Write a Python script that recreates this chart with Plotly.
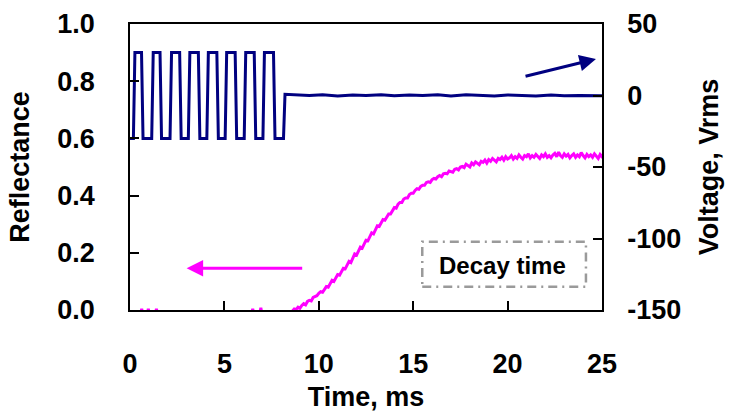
import plotly.graph_objects as go

# ---- data -------------------------------------------------------------
# Drive voltage (Vrms) vs time (ms): 1 kHz square burst, then switched off
volt_time = [0.0, 0.18, 0.26, 0.61, 0.69, 1.15, 1.23, 1.59, 1.67, 2.12, 2.20,
             2.63, 2.71, 3.09, 3.17, 3.62, 3.70, 4.07, 4.15, 4.60, 4.68, 5.04,
             5.12, 5.57, 5.65, 6.05, 6.13, 6.58, 6.66, 7.04, 7.12, 7.60, 7.68,
             8.13, 8.21, 8.8, 9.5, 10.2, 11.0, 11.8, 12.5, 13.3, 14.0, 14.8,
             15.5, 16.3, 17.0, 17.8, 18.5, 19.3, 20.0, 20.8, 21.5, 22.3, 23.0,
             23.8, 24.5, 25.0]
volt_value = [-30, -30, 30, 30, -30, -30, 30, 30, -30, -30, 30,
              30, -30, -30, 30, 30, -30, -30, 30, 30, -30, -30,
              30, 30, -30, -30, 30, 30, -30, -30, 30, 30, -30,
              -30, 0.8, 0.6, 0.0, 0.5, -0.3, 0.4, 0.0, 0.6, -0.2, 0.3,
              0.0, 0.5, -0.4, 0.6, 0.0, -0.3, 0.4, 0.1, -0.3, 0.3, -0.2,
              0.0, 0.2, -0.1]

# Reflectance before the switch-off (mostly just under zero)
refl_early_time = [0.0, 0.55, 0.62, 0.70, 0.90, 0.97, 1.05, 1.33, 1.40,
                   1.48, 6.42, 6.50, 6.58, 6.85, 6.93, 7.00, 8.40]
refl_early = [-0.02, -0.02, 0.004, -0.02, -0.02, 0.004, -0.02, -0.02, 0.004,
              -0.02, -0.02, 0.004, -0.02, -0.02, 0.008, -0.02, -0.02]

# Reflectance decay response, sampled every 0.1 ms from 8.4 ms
refl_start = 8.4
refl_step = 0.1
refl_decay = [
    -0.020, -0.010, -0.004, 0.004, 0.002, 0.010, 0.006, 0.016, 0.022, 0.018,   # 8.4
    0.030, 0.034, 0.032, 0.044, 0.048, 0.050, 0.058, 0.064, 0.062, 0.074,      # 9.4
    0.082, 0.080, 0.092, 0.104, 0.100, 0.112, 0.124, 0.122, 0.136, 0.146,      # 10.4
    0.144, 0.156, 0.170, 0.166, 0.180, 0.196, 0.192, 0.204, 0.220, 0.216,      # 11.4
    0.232, 0.244, 0.242, 0.256, 0.270, 0.266, 0.282, 0.294, 0.292, 0.306,      # 12.4
    0.316, 0.314, 0.328, 0.336, 0.336, 0.350, 0.358, 0.356, 0.370, 0.376,      # 13.4
    0.376, 0.388, 0.392, 0.392, 0.404, 0.408, 0.408, 0.418, 0.424, 0.422,      # 14.4
    0.432, 0.436, 0.436, 0.446, 0.448, 0.446, 0.456, 0.460, 0.458, 0.466,      # 15.4
    0.470, 0.466, 0.476, 0.478, 0.476, 0.486, 0.484, 0.482, 0.492, 0.494,      # 16.4
    0.490, 0.500, 0.502, 0.498, 0.510, 0.504, 0.500, 0.514, 0.508, 0.518,      # 17.4
    0.512, 0.508, 0.520, 0.516, 0.524, 0.514, 0.526, 0.520, 0.530, 0.522,      # 18.4
    0.518, 0.530, 0.526, 0.534, 0.524, 0.536, 0.528, 0.532, 0.540, 0.528,      # 19.4
    0.536, 0.530, 0.542, 0.534, 0.528, 0.540, 0.536, 0.546, 0.532, 0.540,      # 20.4
    0.534, 0.544, 0.538, 0.530, 0.542, 0.536, 0.546, 0.534, 0.540, 0.532,      # 21.4
    0.542, 0.548, 0.536, 0.552, 0.540, 0.534, 0.546, 0.538, 0.544, 0.532,      # 22.4
    0.540, 0.546, 0.534, 0.542, 0.536, 0.550, 0.540, 0.532, 0.544, 0.536,      # 23.4
    0.542, 0.534, 0.546, 0.538, 0.530, 0.544, 0.536, 0.540, 0.546, 0.532,      # 24.4
    0.540,                                                                     # 25.0
]

x_ticks = [0, 5, 10, 15, 20, 25]
refl_ticks = [0.0, 0.2, 0.4, 0.6, 0.8, 1.0]
volt_ticks = [-150, -100, -50, 0, 50]
volt_tick_text = ["-150", "-100", "-50", "0", "50"]

# ---- styles -----------------------------------------------------------
FONT = "Liberation Sans, Arial, sans-serif"
NAVY = "#000080"
MAGENTA = "#FF00FF"
TICK_FONT = dict(family=FONT, size=27, color="black", weight="bold")
TITLE_FONT = dict(family=FONT, size=27, color="black", weight="bold")

fig = go.Figure()

fig.add_trace(go.Scatter(x=refl_early_time, y=refl_early, mode="lines",
                         line=dict(color=MAGENTA, width=3), yaxis="y",
                         showlegend=False))
fig.add_trace(go.Scatter(x0=refl_start, dx=refl_step, y=refl_decay, mode="lines",
                         line=dict(color=MAGENTA, width=3), yaxis="y",
                         showlegend=False))
fig.add_trace(go.Scatter(x=volt_time, y=volt_value, mode="lines",
                         line=dict(color=NAVY, width=3), yaxis="y2",
                         showlegend=False))

axis_common = dict(
    showline=True, linecolor="black", linewidth=1.5,
    ticks="inside", ticklen=9, tickwidth=1.5, tickcolor="black",
    showgrid=False, zeroline=False, automargin=False,
    tickfont=TICK_FONT,
)

fig.update_layout(
    width=730, height=412,
    margin=dict(l=130, r=128, t=24, b=102),
    paper_bgcolor="white", plot_bgcolor="white",
    xaxis=dict(range=[0, 25], tickvals=x_ticks, mirror=True,
               ticklabelstandoff=29,
               title=dict(text="Time, ms", standoff=12, font=TITLE_FONT),
               **axis_common),
    yaxis=dict(range=[0, 1], tickvals=refl_ticks, tickformat=".1f",
               ticklabelstandoff=28,
               title=dict(text="Reflectance", standoff=20, font=TITLE_FONT),
               **axis_common),
    yaxis2=dict(range=[-150, 50], tickvals=volt_ticks, ticktext=volt_tick_text,
                overlaying="y", side="right",
                ticklabelstandoff=18,
                title=dict(text="Voltage, Vrms", standoff=19, font=TITLE_FONT),
                **axis_common),
)

# Arrows pointing each curve to its axis
fig.add_annotation(x=24.68, y=25.5, xref="x", yref="y2",
                   ax=20.87, ay=13.2, axref="x", ayref="y2",
                   showarrow=True, arrowhead=2, arrowsize=1.1, arrowwidth=3,
                   arrowcolor=NAVY, text="")
fig.add_annotation(x=3.0, y=0.146, xref="x", yref="y",
                   ax=9.2, ay=0.146, axref="x", ayref="y",
                   showarrow=True, arrowhead=2, arrowsize=1.1, arrowwidth=3,
                   arrowcolor=MAGENTA, text="")

# Decay time label in a dash-dot box
fig.add_shape(type="rect", xref="x", yref="y", x0=15.48, x1=24.15, y0=0.081, y1=0.239,
              line=dict(color="#9A9A9A", width=2.5, dash="9px,5px,2px,5px"),
              fillcolor="rgba(0,0,0,0)")
fig.add_annotation(x=19.73, y=0.156, xref="x", yref="y", text="Decay time",
                   showarrow=False,
                   font=dict(family=FONT, size=24, color="black", weight="bold"))

fig.write_html("out.html")
